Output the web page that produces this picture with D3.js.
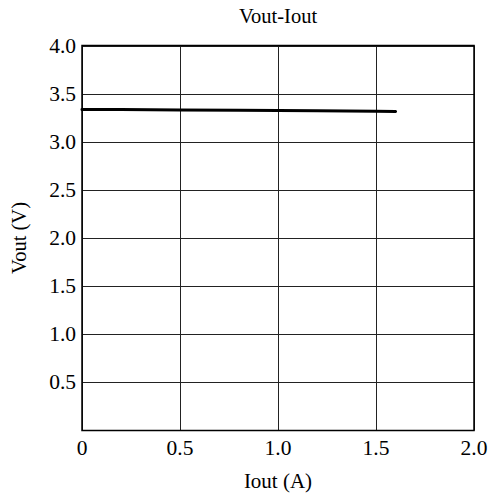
<!DOCTYPE html>
<html>
<head>
<meta charset="utf-8">
<script src="https://cdn.jsdelivr.net/npm/d3@7"></script>
<style>
  html, body { margin: 0; padding: 0; background: #fff; }
  svg { display: block; }
  text { font-family: "Liberation Serif", "Times New Roman", serif; fill: #000; }
</style>
</head>
<body>
<svg id="chart" width="492" height="497"></svg>
<script>
const title = "Vout-Iout";
const xLabel = "Iout (A)";
const yLabel = "Vout (V)";
const xTicks = [0, 0.5, 1.0, 1.5, 2.0];
const xTickLabels = ["0", "0.5", "1.0", "1.5", "2.0"];
const yTicks = [0.5, 1.0, 1.5, 2.0, 2.5, 3.0, 3.5, 4.0];
const yTickLabels = ["0.5", "1.0", "1.5", "2.0", "2.5", "3.0", "3.5", "4.0"];
const iout = [0, 0.2, 0.5, 0.8, 1.0, 1.2, 1.5, 1.6];
const vout = [3.336, 3.334, 3.331, 3.327, 3.324, 3.321, 3.317, 3.315];

const svg = d3.select("#chart");
const m = { left: 82, right: 474, top: 45.5, bottom: 430.5 };
const x = d3.scaleLinear().domain([0, 2]).range([m.left, m.right]);
const y = d3.scaleLinear().domain([0, 4]).range([m.bottom, m.top]);

// grid
svg.append("g").selectAll("line").data(xTicks).join("line")
  .attr("x1", d => Math.round(x(d)) + 0.5).attr("x2", d => Math.round(x(d)) + 0.5)
  .attr("y1", m.top).attr("y2", m.bottom)
  .attr("stroke", "#222").attr("stroke-width", 1);
svg.append("g").selectAll("line").data(yTicks).join("line")
  .attr("y1", d => Math.round(y(d)) + 0.5).attr("y2", d => Math.round(y(d)) + 0.5)
  .attr("x1", m.left).attr("x2", m.right)
  .attr("stroke", "#222").attr("stroke-width", 1);

// frame
svg.append("rect")
  .attr("x", m.left).attr("y", m.top)
  .attr("width", m.right - m.left).attr("height", m.bottom - m.top)
  .attr("fill", "none").attr("stroke", "#000").attr("stroke-width", 1.5);

// axes tick labels
svg.append("g").selectAll("text").data(xTicks).join("text")
  .attr("x", d => x(d)).attr("y", 455)
  .attr("text-anchor", "middle").attr("font-size", 21.5)
  .text((d, i) => xTickLabels[i]);
svg.append("g").selectAll("text").data(yTicks).join("text")
  .attr("x", 76).attr("y", d => y(d)).attr("dy", "0.33em")
  .attr("text-anchor", "end").attr("font-size", 21.5)
  .text((d, i) => yTickLabels[i]);

// line
const line = d3.line().x((d, i) => x(d)).y((d, i) => y(vout[i]));
svg.append("path").datum(iout)
  .attr("d", line)
  .attr("fill", "none").attr("stroke", "#000")
  .attr("stroke-width", 3).attr("stroke-linecap", "round");

// titles
svg.append("text").attr("x", x(1)).attr("y", 23)
  .attr("text-anchor", "middle").attr("font-size", 20.5).text(title);
svg.append("text").attr("x", x(1)).attr("y", 488)
  .attr("text-anchor", "middle").attr("font-size", 21).text(xLabel);
svg.append("text")
  .attr("transform", `translate(26,${y(2)}) rotate(-90)`)
  .attr("text-anchor", "middle").attr("font-size", 20.5).text(yLabel);
</script>
</body>
</html>
